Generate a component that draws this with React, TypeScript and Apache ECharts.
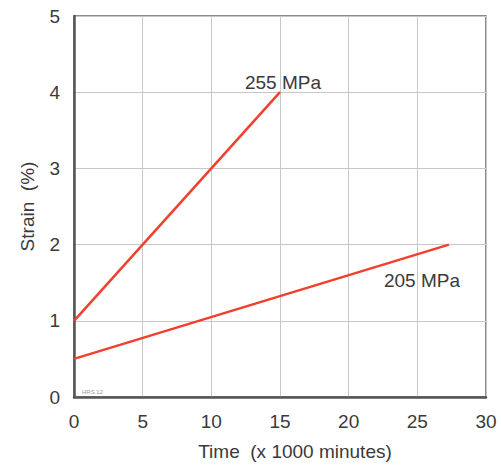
import React, { useEffect, useRef } from "react";
import * as echarts from "echarts";

const xTicks = [0, 5, 10, 15, 20, 25, 30];
const yTicks = [0, 1, 2, 3, 4, 5];
const series255: [number, number][] = [[0, 1], [15, 4]];
const series205: [number, number][] = [[0, 0.5], [27.3, 2]];
const label255 = "255 MPa";
const label205 = "205 MPa";
const xName = "Time  (x 1000 minutes)";
const yName = "Strain  (%)";
const noteText = "HRS.12";

const FONT = "Liberation Sans, Arial, sans-serif";
const RED = "#f0402d";
const TEXT = "#3a3a3a";

export default function App() {
  const ref = useRef<HTMLDivElement>(null);
  useEffect(() => {
    if (!ref.current) return;
    const chart = echarts.init(ref.current, null, { renderer: "svg" });
    const lastIdx255 = series255.length - 1;
    const lastIdx205 = series205.length - 1;
    chart.setOption({
      animation: false,
      backgroundColor: "#ffffff",
      textStyle: { fontFamily: FONT },
      grid: {
        left: 74,
        top: 16,
        right: 15,
        bottom: 65,
        show: true,
        borderColor: "#666",
        borderWidth: 1.5,
        backgroundColor: "transparent",
      },
      xAxis: {
        type: "value",
        min: xTicks[0],
        max: xTicks[xTicks.length - 1],
        interval: 5,
        name: xName,
        nameLocation: "middle",
        nameGap: 45,
        nameTextStyle: { fontSize: 19, color: TEXT, fontFamily: FONT, padding: [0, 0, 0, 30] },
        axisLine: { show: true, lineStyle: { color: "#555", width: 2.5 } },
        axisTick: { show: false },
        axisLabel: { fontSize: 19, color: TEXT, margin: 15, fontFamily: FONT },
        splitLine: { show: true, lineStyle: { color: "#c8c8c8", width: 1 } },
      },
      yAxis: {
        type: "value",
        min: yTicks[0],
        max: yTicks[yTicks.length - 1],
        interval: 1,
        name: yName,
        nameLocation: "middle",
        nameGap: 37,
        nameTextStyle: { fontSize: 19, color: TEXT, fontFamily: FONT },
        axisLine: { show: true, lineStyle: { color: "#555", width: 2.5 } },
        axisTick: { show: false },
        axisLabel: { fontSize: 19, color: TEXT, margin: 14, fontFamily: FONT },
        splitLine: { show: true, lineStyle: { color: "#c8c8c8", width: 1 } },
      },
      series: [
        {
          type: "line",
          name: label255,
          symbol: "circle",
          symbolSize: 0,
          showSymbol: true,
          lineStyle: { color: RED, width: 2.5 },
          itemStyle: { color: RED },
          data: series255.map((p, i) =>
            i === lastIdx255
              ? {
                  value: p,
                  label: {
                    show: true,
                    formatter: label255,
                    position: "top",
                    distance: 0,
                    offset: [3, 0],
                    fontSize: 19,
                    color: TEXT,
                    fontFamily: FONT,
                  },
                }
              : { value: p }
          ),
        },
        {
          type: "line",
          name: label205,
          symbol: "circle",
          symbolSize: 0,
          showSymbol: true,
          lineStyle: { color: RED, width: 2.5 },
          itemStyle: { color: RED },
          data: series205.map((p, i) =>
            i === lastIdx205
              ? {
                  value: p,
                  label: {
                    show: true,
                    formatter: label205,
                    position: "bottom",
                    distance: 26,
                    offset: [-27, 0],
                    fontSize: 19,
                    color: TEXT,
                    fontFamily: FONT,
                  },
                }
              : { value: p }
          ),
        },
      ],
      graphic: [
        {
          type: "text",
          left: 82,
          top: 389,
          style: { text: noteText, fontSize: 6, fill: "#999", fontFamily: FONT },
        },
      ],
    });
    return () => chart.dispose();
  }, []);
  return (
    <div
      ref={ref}
      style={{ position: "absolute", left: 0, top: 0, width: 501, height: 466 }}
    />
  );
}
